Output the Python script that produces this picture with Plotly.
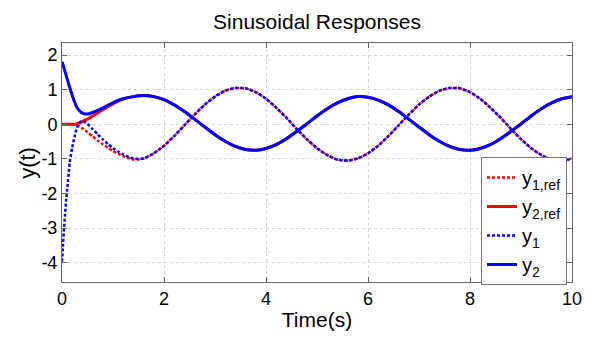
import plotly.graph_objects as go

# Time samples (s)
t = [0, 0.02, 0.04, 0.06, 0.08, 0.1, 0.12, 0.15, 0.2, 0.25, 0.3, 0.35, 0.4, 0.45, 0.5,
     0.6, 0.7, 0.8, 0.9, 1.0, 1.1, 1.2,
     1.4, 1.6, 1.8, 2.0, 2.2, 2.4, 2.6, 2.8, 3.0, 3.2, 3.4, 3.6, 3.8, 4.0,
     4.2, 4.4, 4.6, 4.8, 5.0, 5.2, 5.4, 5.6, 5.8, 6.0, 6.2, 6.4, 6.6, 6.8,
     7.0, 7.2, 7.4, 7.6, 7.8, 8.0, 8.2, 8.4, 8.6, 8.8, 9.0, 9.2, 9.4, 9.6, 9.8, 10.0]

y1_ref = [0, 0, 0, 0, 0, 0, 0, 0, 0, -0.01, -0.03, -0.07, -0.12, -0.17, -0.23,
          -0.35, -0.47, -0.58, -0.68, -0.77, -0.85, -0.92,
          -1.02, -0.99, -0.84, -0.62, -0.34, -0.03, 0.28, 0.57, 0.80, 0.97, 1.05, 1.04, 0.93, 0.74,
          0.48, 0.19, -0.13, -0.43, -0.69, -0.89, -1.02, -1.05, -0.99, -0.84, -0.62, -0.34, -0.03, 0.28,
          0.57, 0.80, 0.97, 1.05, 1.04, 0.93, 0.74, 0.48, 0.19, -0.13, -0.43, -0.69, -0.89, -1.02, -1.05, -0.99]

y2_ref = [0, 0, 0, 0, 0, 0, 0, 0, 0, 0, 0.02, 0.04, 0.08, 0.12, 0.15,
          0.24, 0.33, 0.42, 0.51, 0.59, 0.67, 0.73,
          0.80, 0.83, 0.80, 0.71, 0.56, 0.37, 0.15, -0.08, -0.30, -0.49, -0.64, -0.73, -0.75, -0.70,
          -0.59, -0.42, -0.21, 0.01, 0.24, 0.45, 0.62, 0.74, 0.80, 0.78, 0.70, 0.56, 0.37, 0.15,
          -0.08, -0.30, -0.49, -0.64, -0.73, -0.75, -0.70, -0.59, -0.42, -0.21, 0.01, 0.24, 0.45, 0.62, 0.74, 0.80]

y1 = [-3.97, -3.48, -3.0, -2.6, -2.22, -1.9, -1.6, -1.12, -0.68, -0.33, -0.06, 0.06, 0.09, 0.06, 0.01,
      -0.14, -0.29, -0.44, -0.57, -0.69, -0.79, -0.87,
      -0.99, -0.99, -0.84, -0.62, -0.34, -0.03, 0.28, 0.57, 0.80, 0.97, 1.05, 1.04, 0.93, 0.74,
      0.48, 0.19, -0.13, -0.43, -0.69, -0.89, -1.02, -1.05, -0.99, -0.84, -0.62, -0.34, -0.03, 0.28,
      0.57, 0.80, 0.97, 1.05, 1.04, 0.93, 0.74, 0.48, 0.19, -0.13, -0.43, -0.69, -0.89, -1.02, -1.05, -0.99]

y2 = [1.81, 1.72, 1.62, 1.52, 1.42, 1.32, 1.22, 1.07, 0.84, 0.63, 0.47, 0.38, 0.32, 0.30, 0.30,
      0.34, 0.40, 0.47, 0.55, 0.62, 0.69, 0.74,
      0.80, 0.83, 0.80, 0.71, 0.56, 0.37, 0.15, -0.08, -0.30, -0.49, -0.64, -0.73, -0.75, -0.70,
      -0.59, -0.42, -0.21, 0.01, 0.24, 0.45, 0.62, 0.74, 0.80, 0.78, 0.70, 0.56, 0.37, 0.15,
      -0.08, -0.30, -0.49, -0.64, -0.73, -0.75, -0.70, -0.59, -0.42, -0.21, 0.01, 0.24, 0.45, 0.62, 0.74, 0.80]

x_ticks = [0, 2, 4, 6, 8, 10]
y_ticks = [-4, -3, -2, -1, 0, 1, 2]

FONT = "Liberation Sans, Arial, sans-serif"
DOT = "3px,2px"

fig = go.Figure()
fig.add_trace(go.Scatter(x=t, y=y1_ref, mode="lines", name="y<sub>1,ref</sub>",
                         line=dict(color="#ff0000", width=2.5, dash=DOT, shape="spline", smoothing=0.5)))
fig.add_trace(go.Scatter(x=t, y=y2_ref, mode="lines", name="y<sub>2,ref</sub>",
                         line=dict(color="#ff0000", width=3, shape="spline", smoothing=0.5)))
fig.add_trace(go.Scatter(x=t, y=y1, mode="lines", name="y<sub>1</sub>",
                         line=dict(color="#0000ff", width=2.5, dash=DOT, shape="spline", smoothing=0.5)))
fig.add_trace(go.Scatter(x=t, y=y2, mode="lines", name="y<sub>2</sub>",
                         line=dict(color="#0000ff", width=3, shape="spline", smoothing=0.5)))

axis_common = dict(
    showline=True, linecolor="#666666", linewidth=1, mirror="ticks",
    ticks="inside", ticklen=5, tickcolor="#666666", tickwidth=1,
    showgrid=True, gridcolor="#d4d4d4", griddash="dot", gridwidth=1,
    zeroline=False, tickfont=dict(family=FONT, size=18, color="black"),
)

fig.update_xaxes(range=[0, 10], tickvals=x_ticks, ticktext=[str(v) for v in x_ticks],
                 title=dict(text="Time(s)", font=dict(family=FONT, size=21, color="black"), standoff=4),
                 **axis_common)
fig.update_yaxes(range=[-4.56, 2.35], tickvals=y_ticks, ticktext=[str(v) for v in y_ticks],
                 **axis_common)

fig.add_annotation(text="y(t)", xref="paper", yref="paper", x=-0.068, y=0.50,
                   xanchor="center", yanchor="middle", textangle=-90, showarrow=False,
                   font=dict(family=FONT, size=22, color="black"))

fig.update_layout(
    width=594, height=339,
    margin=dict(l=62, r=22, t=43, b=55),
    paper_bgcolor="white", plot_bgcolor="white",
    font=dict(family=FONT, color="black"),
    title=dict(text="Sinusoidal Responses", font=dict(family=FONT, size=21, color="black"),
               x=0.5, xref="paper", xanchor="center", y=0.935, yref="container", yanchor="middle"),
    legend=dict(x=0.8216, y=0.523, xanchor="left", yanchor="top",
                bgcolor="white", bordercolor="#777777", borderwidth=1,
                font=dict(family=FONT, size=20, color="black"),
                itemwidth=30, tracegroupgap=0),
    showlegend=True,
)

fig.write_html("out.html")
